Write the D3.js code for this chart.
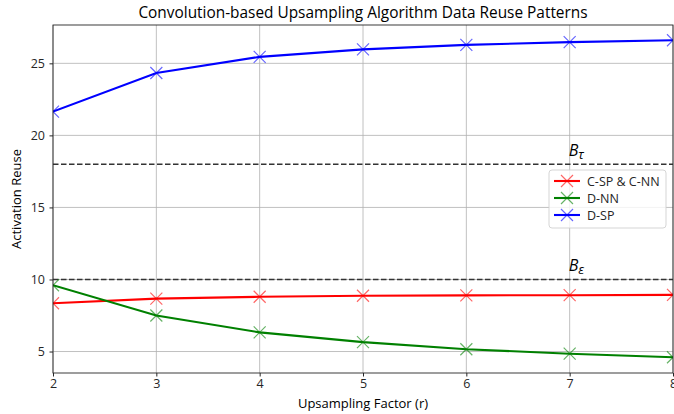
<!DOCTYPE html>
<html>
<head>
<meta charset="utf-8">
<script src="https://cdn.jsdelivr.net/npm/d3@7"></script>
<style>
  body { margin: 0; background: #fff; }
  svg { font-family: "Open Sans", sans-serif; }
</style>
</head>
<body>
<div id="chart"></div>
<script>
var factors = [2, 3, 4, 5, 6, 7, 8];
var cspNN = [8.35, 8.67, 8.8, 8.87, 8.9, 8.91, 8.93];
var dNN = [9.6, 7.5, 6.33, 5.65, 5.16, 4.85, 4.6];
var dSP = [21.65, 24.33, 25.45, 25.97, 26.28, 26.47, 26.6];
var seriesNames = ["C-SP & C-NN", "D-NN", "D-SP"];
var seriesColors = ["#ff0000", "#008000", "#0000ff"];
var bounds = [18, 10];
var boundLabels = ["τ", "ε"];
var yTicks = [5, 10, 15, 20, 25];

var w = 674, h = 414;
var plotLeft = 53, plotRight = 673, plotTop = 25, plotBottom = 373;
var fontFam = "Open Sans, sans-serif";

var svg = d3.select("#chart").append("svg")
  .attr("width", w)
  .attr("height", h);

var xScale = d3.scaleLinear().domain([2, 8]).range([plotLeft, plotRight]);
var yScale = d3.scaleLinear().domain([3.51, 27.66]).range([plotBottom, plotTop]);

svg.append("clipPath").attr("id", "plotclip")
  .append("rect")
  .attr("x", plotLeft).attr("y", plotTop)
  .attr("width", plotRight - plotLeft).attr("height", plotBottom - plotTop);

// grid
svg.append("g").selectAll("line")
  .data(factors)
  .enter().append("line")
  .attr("x1", function(d) { return xScale(d); })
  .attr("x2", function(d) { return xScale(d); })
  .attr("y1", plotTop).attr("y2", plotBottom)
  .attr("stroke", "#b0b0b0").attr("stroke-width", 0.8);

svg.append("g").selectAll("line")
  .data(yTicks)
  .enter().append("line")
  .attr("x1", plotLeft).attr("x2", plotRight)
  .attr("y1", function(d) { return yScale(d); })
  .attr("y2", function(d) { return yScale(d); })
  .attr("stroke", "#b0b0b0").attr("stroke-width", 0.8);

// bound lines
svg.append("g").selectAll("line")
  .data(bounds)
  .enter().append("line")
  .attr("x1", plotLeft).attr("x2", plotRight)
  .attr("y1", function(d) { return yScale(d); })
  .attr("y2", function(d) { return yScale(d); })
  .attr("stroke", "#333").attr("stroke-width", 1.6)
  .attr("stroke-dasharray", "5.5,2.5");

var boundText = svg.append("g").selectAll("text")
  .data(bounds)
  .enter().append("text")
  .attr("x", xScale(7) - 1)
  .attr("y", function(d) { return yScale(d) - 8; })
  .attr("font-size", 16)
  .attr("font-style", "italic")
  .attr("fill", "#000");
boundText.append("tspan").text("B");
boundText.append("tspan")
  .attr("dy", 3)
  .attr("font-size", 13)
  .text(function(d, i) { return boundLabels[i]; });

// series
var allSeries = [cspNN, dNN, dSP];
var line = d3.line()
  .x(function(d, i) { return xScale(factors[i]); })
  .y(function(d) { return yScale(d); });

var plot = svg.append("g").attr("clip-path", "url(#plotclip)");

allSeries.forEach(function(vals, k) {
  plot.append("path")
    .datum(vals)
    .attr("d", line)
    .attr("fill", "none")
    .attr("stroke", seriesColors[k])
    .attr("stroke-width", 2.1);

  plot.append("g").selectAll("path")
    .data(vals)
    .enter().append("path")
    .attr("d", "M-6,-6L6,6M-6,6L6,-6")
    .attr("transform", function(d, i) {
      return "translate(" + xScale(factors[i]) + "," + yScale(d) + ")";
    })
    .attr("stroke", seriesColors[k])
    .attr("stroke-opacity", 0.6)
    .attr("stroke-width", 1.2)
    .attr("fill", "none");
});

// axes
var xAxis = d3.axisBottom(xScale)
  .tickValues(factors)
  .tickFormat(d3.format("d"))
  .tickSize(3.5);

var yAxis = d3.axisLeft(yScale)
  .tickValues(yTicks)
  .tickSize(3.5)
  .tickPadding(4.5);

var gx = svg.append("g")
  .attr("transform", "translate(0," + plotBottom + ")")
  .call(xAxis);
var gy = svg.append("g")
  .attr("transform", "translate(" + plotLeft + ",0)")
  .call(yAxis);

[gx, gy].forEach(function(g) {
  g.select(".domain").remove();
  g.selectAll("text").attr("font-size", 12.5).attr("fill", "#262626")
    .attr("font-family", fontFam);
  g.selectAll("line").attr("stroke", "#262626");
});

// frame
svg.append("rect")
  .attr("x", plotLeft).attr("y", plotTop)
  .attr("width", plotRight - plotLeft).attr("height", plotBottom - plotTop)
  .attr("fill", "none")
  .attr("stroke", "#262626").attr("stroke-width", 0.9);

// titles
svg.append("text")
  .attr("x", (plotLeft + plotRight) / 2).attr("y", 18)
  .attr("text-anchor", "middle")
  .attr("font-size", 15.4)
  .attr("fill", "#000")
  .text("Convolution-based Upsampling Algorithm Data Reuse Patterns");

svg.append("text")
  .attr("x", (plotLeft + plotRight) / 2).attr("y", 408)
  .attr("text-anchor", "middle")
  .attr("font-size", 13)
  .attr("fill", "#000")
  .text("Upsampling Factor (r)");

svg.append("text")
  .attr("transform", "translate(21," + (plotTop + plotBottom) / 2 + ") rotate(-90)")
  .attr("text-anchor", "middle")
  .attr("font-size", 13)
  .attr("fill", "#000")
  .text("Activation Reuse");

// legend
var lg = svg.append("g").attr("transform", "translate(549,170)");
lg.append("rect")
  .attr("width", 117).attr("height", 58)
  .attr("rx", 3)
  .attr("fill", "#fff").attr("fill-opacity", 0.8)
  .attr("stroke", "#d0d0d0").attr("stroke-width", 0.9);

var items = lg.selectAll(".item")
  .data(seriesNames)
  .enter().append("g")
  .attr("transform", function(d, i) { return "translate(0," + (11 + i * 17) + ")"; });

items.append("line")
  .attr("x1", 5).attr("x2", 31).attr("y1", 0).attr("y2", 0)
  .attr("stroke", function(d, i) { return seriesColors[i]; })
  .attr("stroke-width", 2.1);
items.append("path")
  .attr("d", "M12,-6L24,6M12,6L24,-6")
  .attr("stroke", function(d, i) { return seriesColors[i]; })
  .attr("stroke-opacity", 0.6)
  .attr("stroke-width", 1.2);
items.append("text")
  .attr("x", 38).attr("y", 4.5)
  .attr("font-size", 12.5)
  .attr("fill", "#262626")
  .text(function(d) { return d; });
</script>
</body>
</html>
